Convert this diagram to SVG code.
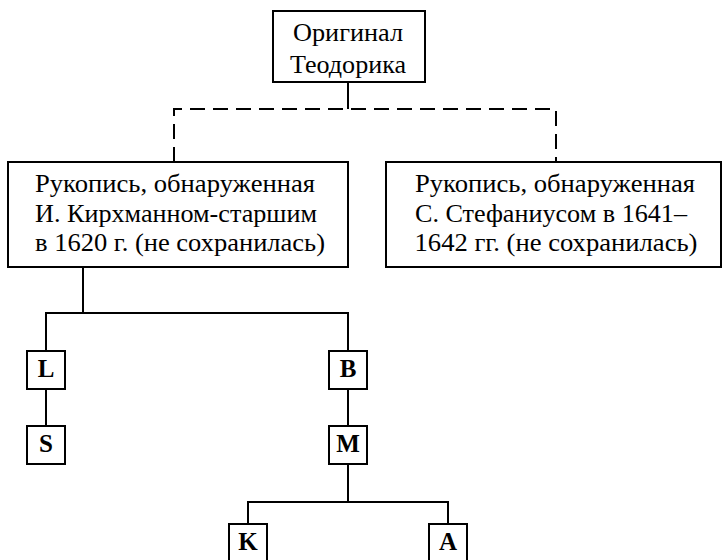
<svg xmlns="http://www.w3.org/2000/svg" width="722" height="560" viewBox="0 0 722 560" font-family="'Liberation Serif', serif">
<style>
.box{fill:#fff;stroke:#000;stroke-width:2}
.t{font-family:'Liberation Serif',serif;font-size:25px;fill:#000;text-anchor:middle}
.b{font-family:'Liberation Serif',serif;font-size:25px;font-weight:bold;fill:#000;text-anchor:middle}
.ln{fill:none;stroke:#000;stroke-width:2}
.dash{fill:none;stroke:#000;stroke-width:2;stroke-dasharray:15 8}
</style>
<rect width="722" height="560" fill="#fff"/>
<g id="connectors">
<line class="ln" x1="348" y1="82" x2="348" y2="109"/>
<polyline class="dash" points="174,162 174,109 556,109 556,162"/>
<polyline class="ln" points="83,267 83,313"/>
<polyline class="ln" points="46,351 46,313 348,313 348,351"/>
<line class="ln" x1="46" y1="389" x2="46" y2="426"/>
<line class="ln" x1="348" y1="389" x2="348" y2="426"/>
<polyline class="ln" points="248,524 248,502 448,502 448,524"/>
<line class="ln" x1="348" y1="464" x2="348" y2="502"/>
</g>
<g id="original">
<rect class="box" x="273" y="11" width="152" height="71"/>
<text class="t" x="348" y="41" textLength="110" lengthAdjust="spacingAndGlyphs">Оригинал</text>
<text class="t" x="348" y="73" textLength="116" lengthAdjust="spacingAndGlyphs">Теодорика</text>
</g>
<g id="kirchmann">
<rect class="box" x="8" y="162" width="340" height="105"/>
<text class="t" x="175" y="192" textLength="280" lengthAdjust="spacingAndGlyphs">Рукопись, обнаруженная</text>
<text class="t" x="176" y="222" textLength="282" lengthAdjust="spacingAndGlyphs">И. Кирхманном-старшим</text>
<text class="t" x="180" y="251" textLength="290" lengthAdjust="spacingAndGlyphs">в 1620 г. (не сохранилась)</text>
</g>
<g id="stephanius">
<rect class="box" x="386" y="162" width="335" height="105"/>
<text class="t" x="555" y="192" textLength="280" lengthAdjust="spacingAndGlyphs">Рукопись, обнаруженная</text>
<text class="t" x="551" y="222" textLength="272" lengthAdjust="spacingAndGlyphs">С. Стефаниусом в 1641–</text>
<text class="t" x="556" y="251" textLength="283" lengthAdjust="spacingAndGlyphs">1642 гг. (не сохранилась)</text>
</g>
<g id="L"><rect class="box" x="27" y="351" width="38" height="38"/><text class="b" x="46" y="377">L</text></g>
<g id="S"><rect class="box" x="27" y="426" width="38" height="38"/><text class="b" x="46" y="452">S</text></g>
<g id="B"><rect class="box" x="329" y="351" width="38" height="38"/><text class="b" x="348" y="377">B</text></g>
<g id="M"><rect class="box" x="329" y="426" width="38" height="38"/><text class="b" x="348" y="452">M</text></g>
<g id="K"><rect class="box" x="229" y="524" width="38" height="38"/><text class="b" x="248" y="550">K</text></g>
<g id="A"><rect class="box" x="429" y="524" width="38" height="38"/><text class="b" x="448" y="550">A</text></g>
</svg>
